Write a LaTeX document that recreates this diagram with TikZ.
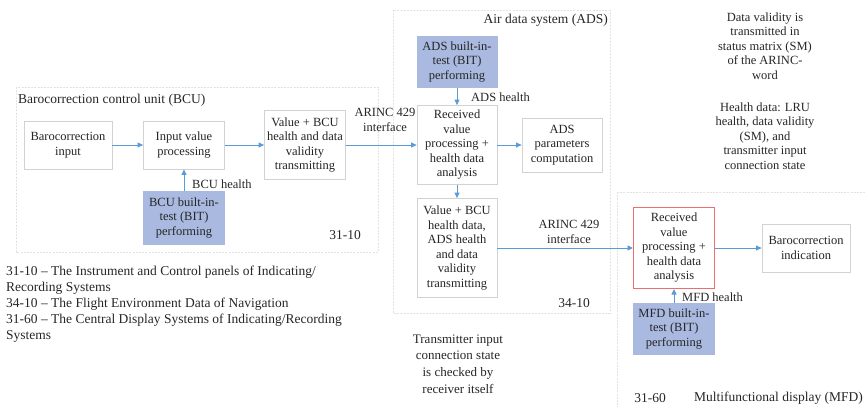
\documentclass[tikz,border=0pt]{standalone}
\usepackage{fontspec}
\setmainfont{Liberation Serif}
\usetikzlibrary{arrows.meta}
\definecolor{linkblue}{RGB}{91,155,213}
\definecolor{bitfill}{RGB}{169,185,224}
\definecolor{boxline}{RGB}{210,210,210}
\definecolor{redline}{RGB}{238,110,110}
\definecolor{groupline}{RGB}{226,226,226}
\tikzset{
  blk/.style={draw=boxline, line width=0.8pt, fill=white, align=center, inner sep=0pt,
    font=\fontsize{12.5}{14.5}\selectfont, text=black!85},
  bitbox/.style={blk, draw=bitfill, fill=bitfill},
  chkbox/.style={blk, draw=redline, line width=1pt},
  link/.style={draw=linkblue, line width=0.9pt, -{Triangle[length=5.5pt,width=5pt]}},
  lbl/.style={font=\fontsize{12.5}{14.5}\selectfont, align=center, inner sep=0pt, text=black!85},
  ttl/.style={font=\fontsize{13.5}{16}\selectfont, inner sep=0pt, text=black!85},
  grp/.style={draw=groupline, line width=0.8pt, dash pattern=on 2pt off 1.2pt},
}
\begin{document}
\begin{tikzpicture}[x=1pt,y=-1pt]
\useasboundingbox (0,0) rectangle (865,407);

% group frames
\draw[grp] (16,87) rectangle (378,252);
\draw[grp] (393,10) rectangle (610,313);
\draw[grp] (617,192) -- (870,192);
\draw[grp] (617,192) -- (617,412);

% group titles and codes
\node[ttl, anchor=west] (tbcu) at (18,100) {Barocorrection control unit (BCU)};
\node[ttl, anchor=east] (tads) at (608,20) {Air data system (ADS)};
\node[ttl, anchor=west] (tmfd) at (694,398) {Multifunctional display (MFD)};
\node[ttl] (c3110) at (345,235) {31-10};
\node[ttl] (c3410) at (574,303) {34-10};
\node[ttl] (c3160) at (650,398) {31-60};

% BCU blocks
\node[blk, minimum width=88, minimum height=48] (bin) at (68,145) {Barocorrection\\input};
\node[blk, minimum width=81, minimum height=48] (ivp) at (184,145) {Input value\\processing};
\node[blk, minimum width=81, minimum height=69] (vbt) at (305,145) {Value + BCU\\health and data\\validity\\transmitting};
\node[bitbox, minimum width=81, minimum height=53] (bbit) at (184,218) {BCU built-in-\\test (BIT)\\performing};

% ADS blocks
\node[bitbox, minimum width=80, minimum height=51] (abit) at (457,62) {ADS built-in-\\test (BIT)\\performing};
\node[blk, minimum width=80, minimum height=79] (arv) at (457,145) {Received\\value\\processing +\\health data\\analysis};
\node[blk, minimum width=80, minimum height=54] (apc) at (562,145) {ADS\\parameters\\computation};
\node[blk, minimum width=80, minimum height=99] (avt) at (457,248) {Value + BCU\\health data,\\ADS health\\and data\\validity\\transmitting};

% MFD blocks
\node[chkbox, minimum width=81, minimum height=81] (mrv) at (674,248) {Received\\value\\processing +\\health data\\analysis};
\node[blk, minimum width=88, minimum height=48] (mbi) at (806,248) {Barocorrection\\indication};
\node[bitbox, minimum width=81, minimum height=51] (mbit) at (674,329) {MFD built-in-\\test (BIT)\\performing};

% connectors
\draw[link] (bin) -- (ivp);
\draw[link] (ivp) -- (vbt);
\draw[link] (vbt) -- (arv);
\draw[link] (bbit) -- (ivp);
\draw[link] (abit) -- (arv);
\draw[link] (arv) -- (apc);
\draw[link] (arv) -- (avt);
\draw[link] (avt) -- (mrv);
\draw[link] (mrv) -- (mbi);
\draw[link] (mbit) -- (mrv);

% connector labels
\node[lbl] (arinc1) at (385,120) {ARINC 429\\interface};
\node[lbl] (arinc2) at (569,232) {ARINC 429\\interface};
\node[lbl, anchor=west] (hbcu) at (192,184) {BCU health};
\node[lbl, anchor=west] (hads) at (471,97) {ADS health};
\node[lbl, anchor=west] (hmfd) at (682,297) {MFD health};

% notes
\node[lbl] (nsm) at (765,46) {Data validity is\\transmitted in\\status matrix (SM)\\of the ARINC-\\word};
\node[lbl] (nhd) at (765,136) {Health data: LRU\\health, data validity\\(SM), and\\transmitter input\\connection state};
\node[lbl, font=\fontsize{13}{16.6}\selectfont] (ntx) at (458,364) {Transmitter input\\connection state\\is checked by\\receiver itself};

% legend
\node[ttl, anchor=north west, align=left, font=\fontsize{13.5}{16}\selectfont] (legend) at (6,266)
  {31-10 -- The Instrument and Control panels of Indicating/\\
   Recording Systems\\
   34-10 -- The Flight Environment Data of Navigation\\
   31-60 -- The Central Display Systems of Indicating/Recording\\
   Systems};
\end{tikzpicture}
\end{document}
